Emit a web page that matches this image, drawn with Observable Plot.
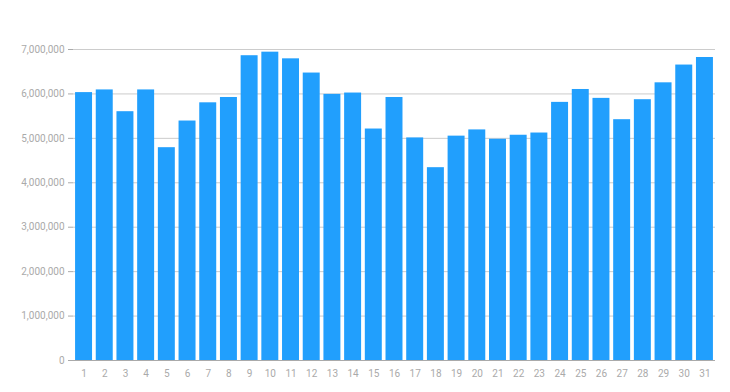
<!DOCTYPE html>
<html>
<head>
<meta charset="utf-8">
<script src="https://cdn.jsdelivr.net/npm/d3@7"></script>
<script src="https://cdn.jsdelivr.net/npm/@observablehq/plot@0.6"></script>
<style>
  html, body { margin: 0; padding: 0; background: #fff; }
  #chart { width: 730px; height: 392px; }
</style>
</head>
<body>
<div id="chart"></div>
<script>
const days = ["1","2","3","4","5","6","7","8","9","10","11","12","13","14","15","16",
  "17","18","19","20","21","22","23","24","25","26","27","28","29","30","31"];
const values = [6030000, 6090000, 5600000, 6090000, 4790000, 5390000, 5800000, 5920000,
  6860000, 6940000, 6790000, 6470000, 5990000, 6020000, 5210000, 5920000,
  5010000, 4340000, 5050000, 5190000, 4980000, 5070000, 5120000, 5810000,
  6100000, 5900000, 5420000, 5870000, 6250000, 6650000, 6820000];
const yTicks = [0, 1000000, 2000000, 3000000, 4000000, 5000000, 6000000, 7000000];

const data = days.map((d, i) => ({day: d, value: values[i]}));

const chart = Plot.plot({
  width: 730,
  height: 392,
  marginTop: 49,
  marginBottom: 32,
  marginLeft: 73,
  marginRight: 15,
  style: {fontFamily: "Roboto, sans-serif", fontSize: "10px", color: "#aaa", background: "#fff"},
  x: {domain: days, round: false, paddingInner: 0.18, paddingOuter: 0.1, label: null, tickSize: 0, tickPadding: 9},
  y: {domain: [0, 7000000], ticks: yTicks, tickFormat: d3.format(","), label: null, tickSize: 5, tickPadding: 4},
  marks: [
    Plot.gridY(yTicks, {stroke: "#ccc", strokeOpacity: 1}),
    Plot.barY(data, {x: "day", y: "value", fill: "#219ffd"}),
    Plot.ruleY([0], {stroke: "#aaa"})
  ]
});
document.getElementById("chart").appendChild(chart);
</script>
</body>
</html>
